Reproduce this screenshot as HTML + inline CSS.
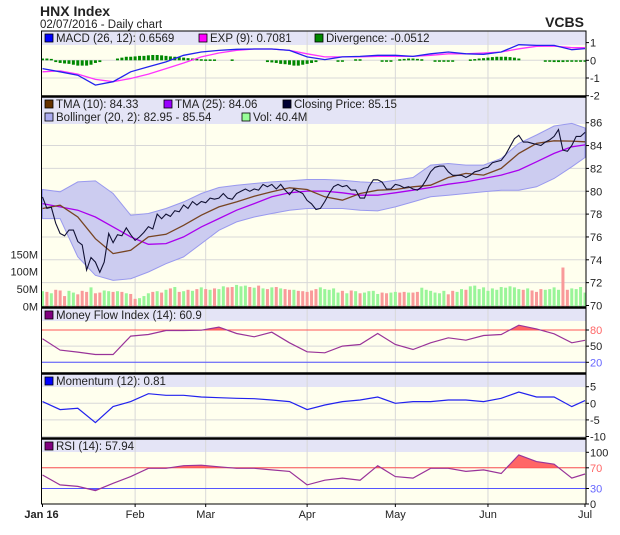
<!DOCTYPE html>
<html><head><meta charset="utf-8">
<style>
body{margin:0;background:#fff;}
svg{display:block;font-family:"Liberation Sans",sans-serif;}
</style></head>
<body>
<svg id="chart" width="620" height="535" viewBox="0 0 620 535">
<text x="40" y="16" font-size="14" font-weight="bold" fill="#222">HNX Index</text>
<text x="40" y="28" font-size="11.5" fill="#222">02/07/2016 - Daily chart</text>
<text x="584" y="27" font-size="14" font-weight="bold" fill="#222" text-anchor="end">VCBS</text>
<g id="layer"></g>
</svg>
<script>
// ---- data ----
const close = [79.5,78.5,78.6,77.2,76.3,76.1,76.6,76.6,75.6,75.3,73.1,74.2,73.8,72.9,73.8,76.3,75.5,76.2,76.1,76.8,76.2,75.7,76,76.4,76.9,76.7,78,77.6,78,77.8,78.3,78.2,78.8,78.5,79.1,78.8,79.1,79,79.4,79.3,79.4,79.8,79.4,79.3,79.8,80,80.2,80,80.2,80.1,80.6,80.4,80.6,80.2,80.6,80.1,79.7,80.2,80,79.8,79.2,78.9,78.4,78.5,79.1,79.8,80.4,80.6,80.4,80.5,80.1,80.1,79.4,79.4,80.4,81,81,80.8,80.2,80.2,80.6,80.5,80.3,80.4,80.2,80.1,80.4,81,81.7,82.1,82.2,82.2,81.7,81.4,81.4,81.4,81.2,81.4,81.7,81.8,82,82.1,82.5,82.6,82.7,83.2,83.9,84.6,84.9,84.3,84.3,84.2,84.1,84,84.3,84.5,84.8,85.4,83.6,83.5,84,84.8,84.8,85.15];
const volume = [44,42,38,48,46,30,45,40,35,45,42,55,38,40,46,44,42,44,42,38,36,22,24,30,38,42,44,40,48,52,56,42,44,48,45,50,55,50,48,52,50,58,55,56,62,58,60,56,54,60,52,50,55,56,52,50,48,48,45,44,42,46,50,55,50,48,52,40,45,38,46,44,38,40,44,45,36,40,38,40,42,40,42,40,40,42,54,48,45,40,38,45,35,45,42,50,48,58,60,50,55,45,52,48,56,54,58,55,50,48,52,46,42,50,48,50,55,48,112,48,52,50,56,40];
const divergence = [.1,.1,.08,-.1,-.15,-.18,-.2,-.25,-.3,-.3,-.3,-.25,-.15,-.1,0,0,0,.1,.15,.2,.2,.22,.25,.25,.28,.3,.3,.28,.25,.22,.2,.18,.15,.12,.1,.08,.06,.05,.05,.05,0,0,0,.05,0,0,0,0,0,0,0,-.1,-.12,-.15,-.2,-.22,-.25,-.3,-.3,-.25,-.2,-.15,-.1,0,0,0,0,-.08,-.08,0,0,.06,.06,0,0,0,0,-.05,-.05,-.05,0,.06,.08,.1,.1,.08,.06,0,0,-.05,-.05,-.05,-.05,-.05,0,0,0,.05,.07,.1,.12,.15,.18,.2,.2,.2,.18,.15,.1,0,0,0,0,0,-.05,-.08,-.1,-.1,-.1,-.08,-.05,-.05,-.05,-.05];
const sampleIdx = [0,4,8,12,16,20,24,28,32,36,40,44,48,52,56,60,64,68,72,76,80,84,88,92,96,100,104,108,112,116,120,123];
const tma10 = [78.49,78.78,77.75,75.85,74.54,74.83,76.0,76.23,77.02,77.9,78.63,79.07,79.57,79.95,80.3,80.15,79.51,79.22,79.8,80.09,80.15,80.39,80.53,81.2,81.56,81.41,82.0,83.31,84.19,84.42,84.39,84.33];
const tma25 = [78.92,78.63,78.34,77.75,76.88,76.0,75.36,75.42,76.0,76.88,77.61,78.34,78.92,79.51,79.86,80.01,80.01,79.86,79.65,79.65,79.86,80.09,80.33,80.62,80.82,81.12,81.41,81.85,82.58,83.31,83.89,84.06];
const bollUpper = [80.15,79.95,80.82,80.91,79.8,77.9,78.05,78.49,79.07,79.8,80.33,80.53,80.68,80.82,80.91,81.03,81.03,80.97,80.82,80.74,80.97,81.2,82.29,82.43,82.29,82.29,82.87,84.19,84.92,85.71,85.94,85.54];
const bollLower = [77.61,77.61,74.25,72.64,72.2,72.35,72.93,73.66,74.25,75.42,76.58,77.32,77.75,78.05,78.34,78.49,78.49,78.49,78.34,78.28,78.63,79.07,79.51,79.65,79.8,79.95,80.09,80.09,80.39,81.12,82.14,82.95];
const macd = [-0.47,-0.65,-0.84,-1.4,-1.21,-0.65,-0.37,-0.09,0.28,0.47,0.56,0.62,0.64,0.64,0.56,0.19,0.04,0.19,0.22,0.28,0.28,0.22,0.37,0.47,0.37,0.34,0.47,0.88,0.84,0.84,0.6,0.66];
const macdExp = [-0.65,-0.6,-0.78,-1.08,-1.21,-1.03,-0.78,-0.47,-0.15,0.19,0.41,0.56,0.64,0.64,0.56,0.37,0.19,0.19,0.19,0.22,0.22,0.22,0.28,0.37,0.37,0.41,0.47,0.65,0.79,0.8,0.71,0.71];
const mfi = [63.6,42.6,38.9,34.5,34.5,68.6,71.6,79.0,79.0,79.7,85.3,73.5,67.3,75.9,56.2,39.5,37.6,50,53.1,73.5,53.1,43.8,56.2,65.5,61.1,69.8,71.6,88.9,82.1,72.9,56.2,60.9];
const momentum = [0.5,-1.9,-1.5,-5.8,-1.0,0.5,2.9,2.4,2.4,1.9,1.7,1.5,1.4,1.0,0.5,-1.9,-0.5,0.5,1.0,1.9,0,0.5,0.5,1.0,1.0,0.5,1.5,3.4,1.9,1.9,-1.0,0.81];
const rsi = [56,37,34,26,40,53,69,69,74,75,72,69,69,66,63,37,46,50,46,74,53,50,69,69,63,66,59,95,82,77,50,57.94];
const monthLabels = ["Jan 16","Feb","Mar","Apr","May","Jun","Jul"];
const monthIdx = [0,21,37,60,80,101,123];
const macdTicks = [1,0,-1,-2];
const priceTicks = [86,84,82,80,78,76,74,72,70];
const volTicks = [0,50,100,150];
const mfiTicks = [80,50,20];
const momTicks = [5,0,-5,-10];
const rsiTicks = [100,70,30,0];

// ---- layout ----
const NS = "http://www.w3.org/2000/svg";
const L = document.getElementById('layer');
const X0 = 41.5, X1 = 586;
const N = close.length;
const xs = i => X0 + 1 + i * (X1 - X0 - 2) / (N - 1);
function lin(d0, d1, p0, p1) { return v => p0 + (v - d0) * (p1 - p0) / (d1 - d0); }
function mk(tag, attrs, parent) {
  const e = document.createElementNS(NS, tag);
  for (const k in attrs) e.setAttribute(k, attrs[k]);
  (parent || L).appendChild(e);
  return e;
}
function txt(x, y, s, size, fill, anchor, weight) {
  const t = mk('text', {x: x, y: y, 'font-size': size, fill: fill || '#222', 'text-anchor': anchor || 'start'});
  if (weight) t.setAttribute('font-weight', weight);
  t.textContent = s;
  return t;
}
function pathOf(idx, vals, y) { return idx.map((i, k) => (k ? 'L' : 'M') + xs(i).toFixed(1) + ' ' + y(vals[k]).toFixed(1)).join(' '); }

const panels = [
  {name:'macd', top:31, leg:45, bot:96},
  {name:'price', top:97, leg:124, bot:307},
  {name:'mfi', top:308, leg:321, bot:373},
  {name:'momentum', top:374, leg:387, bot:438},
  {name:'rsi', top:439, leg:452, bot:504}
];
panels.forEach(p => {
  const bg = mk('rect', {x: X0, y: p.top, width: X1 - X0, height: p.bot - p.top, fill: '#ffffee'});
  
  
  const lb = mk('rect', {x: X0, y: p.top, width: X1 - X0, height: p.leg - p.top, fill: '#e4e4f6'});
  
  
  monthIdx.forEach((mi, k) => {
    if (k === 0 || k === monthIdx.length - 1) return;
    const gl = mk('line', {x1: xs(mi), x2: xs(mi), y1: p.top, y2: p.bot, stroke: '#d8d8d8', 'stroke-width': 1});
    
    
  });
});
function hgrid(y, ticks, p, fmt, colorFn) {
  ticks.forEach(t => {
    const yy = y(t);
    if (yy > p.leg + 1 && yy < p.bot - 1) {
      const g = mk('line', {x1: X0, x2: X1, y1: yy, y2: yy, stroke: '#d8d8d8'});
      
      
    }
    const tk = mk('line', {x1: X1, x2: X1 + 3, y1: yy, y2: yy, stroke: '#000'});
    
    
    const lab = txt(X1 + 4, yy + 4, fmt ? fmt(t) : String(t), 11, colorFn ? colorFn(t) : '#222');
    
    
  });
}
function legend(items, y) {
  items.forEach(it => {
    const sq = mk('rect', {x: it.x, y: y - 8, width: 8, height: 8, fill: it.c, stroke: '#000', 'stroke-width': 0.8});
    
    
    const t = txt(it.x + 11, y, it.t, 11.5, '#222');
    
    
  });
}

// ---- MACD ----
{
  const p = panels[0];
  const y = lin(0, 1, 60.3, 42.6);
  hgrid(y, macdTicks, p);
  divergence.forEach((d, i) => {
    if (d === 0) return;
    const r = mk('rect', {x: xs(i) - 1.5, y: Math.min(y(0), y(d)), width: 3, height: Math.max(1.5, Math.abs(y(d) - y(0))), fill: '#008800'});
    
    
  });
  const e = mk('path', {d: pathOf(sampleIdx, macdExp, y), fill: 'none', stroke: '#ff33ff', 'stroke-width': 1.3});
  
  
  const m = mk('path', {d: pathOf(sampleIdx, macd, y), fill: 'none', stroke: '#2222ee', 'stroke-width': 1.3});
  
  
  legend([{x:45,c:'#0000ff',t:'MACD (26, 12): 0.6569'},{x:199,c:'#ff00ff',t:'EXP (9): 0.7081'},{x:315,c:'#008800',t:'Divergence: -0.0512'}], 42);
}

// ---- Price ----
{
  const p = panels[1];
  const y = lin(70, 86, 305.5, 122.7);
  const yv = lin(0, 150, 306.5, 254.3);
  hgrid(y, priceTicks, p);
  volTicks.forEach(t => {
    const lab = txt(38, yv(t) + 4, t + 'M', 11, '#222', 'end');
    
    
  });
  const bandD = pathOf(sampleIdx, bollUpper, y) + ' ' + sampleIdx.slice().reverse().map((i, k) => 'L' + xs(i).toFixed(1) + ' ' + y(bollLower[sampleIdx.length - 1 - k]).toFixed(1)).join(' ') + ' Z';
  const band = mk('path', {d: bandD, fill: '#ccccf0', stroke: '#9999ee', 'stroke-width': 1});
  
  
  volume.forEach((v, i) => {
    const up = i === 0 || close[i] >= close[i - 1];
    const r = mk('rect', {x: xs(i) - 1.5, y: yv(v), width: 3, height: yv(0) - yv(v), fill: up ? '#99f599' : '#f99a9a'});
    
    
  });
  const t25 = mk('path', {d: pathOf(sampleIdx, tma25, y), fill: 'none', stroke: '#aa00ee', 'stroke-width': 1.3});
  
  
  const t10 = mk('path', {d: pathOf(sampleIdx, tma10, y), fill: 'none', stroke: '#774422', 'stroke-width': 1.3});
  
  
  const cl = mk('path', {d: pathOf(close.map((_, i) => i), close, y), fill: 'none', stroke: '#111133', 'stroke-width': 1.1});
  
  
  legend([{x:45,c:'#663300',t:'TMA (10): 84.33'},{x:164,c:'#9900ff',t:'TMA (25): 84.06'},{x:283,c:'#000033',t:'Closing Price: 85.15'}], 108);
  legend([{x:45,c:'#aaaaf0',t:'Bollinger (20, 2): 82.95 - 85.54'},{x:242,c:'#99ff99',t:'Vol: 40.4M'}], 121);
}

// ---- oscillator panels ----
function osc(p, y, vals, ticks, color, hi, lo, legItems, name, fmtColor) {
  hgrid(y, ticks, p, null, fmtColor);
  const id = 'clip-' + name;
  const cp = mk('clipPath', {id: id});
  mk('rect', {x: X0, y: p.leg, width: X1 - X0, height: p.bot - p.leg}, cp);
  const d = pathOf(sampleIdx, vals, y);
  if (hi !== null) {
    const c1 = mk('clipPath', {id: id + 'h'});
    mk('rect', {x: X0, y: p.leg, width: X1 - X0, height: y(hi) - p.leg}, c1);
    const f = mk('path', {d: d + ' L' + xs(sampleIdx[sampleIdx.length - 1]) + ' ' + y(hi) + ' L' + xs(0) + ' ' + y(hi) + ' Z', fill: '#ff6666', 'clip-path': 'url(#' + id + 'h)'});
    
    
    const hl = mk('line', {x1: X0, x2: X1, y1: y(hi), y2: y(hi), stroke: '#ff5555'});
    
    
  }
  if (lo !== null) {
    const c2 = mk('clipPath', {id: id + 'l'});
    mk('rect', {x: X0, y: y(lo), width: X1 - X0, height: p.bot - y(lo)}, c2);
    const f = mk('path', {d: d + ' L' + xs(sampleIdx[sampleIdx.length - 1]) + ' ' + y(lo) + ' L' + xs(0) + ' ' + y(lo) + ' Z', fill: '#6666ff', 'clip-path': 'url(#' + id + 'l)'});
    
    
    const ll = mk('line', {x1: X0, x2: X1, y1: y(lo), y2: y(lo), stroke: '#5555ff'});
    
    
  }
  const ln = mk('path', {d: d, fill: 'none', stroke: color, 'stroke-width': 1.2, 'clip-path': 'url(#' + id + ')'});
  
  
  legend(legItems, p.top + 11);
}
const thrColor = t => t === 80 || t === 70 ? '#ff6666' : (t === 20 || t === 30 ? '#6666ff' : '#222');
osc(panels[2], lin(20, 80, 362.3, 330), mfi, mfiTicks, '#993399', 80, 20, [{x:45,c:'#800080',t:'Money Flow Index (14): 60.9'}], 'mfi', thrColor);
osc(panels[3], lin(0, 5, 403.3, 386.7), momentum, momTicks, '#2222ee', null, null, [{x:45,c:'#0000ff',t:'Momentum (12): 0.81'}], 'momentum');
osc(panels[4], lin(0, 100, 504, 452.3), rsi, rsiTicks, '#993399', 70, 30, [{x:45,c:'#800080',t:'RSI (14): 57.94'}], 'rsi', thrColor);

// ---- frames & x axis ----
panels.forEach(p => {
  const f = mk('rect', {x: X0, y: p.top, width: X1 - X0, height: p.bot - p.top, fill: 'none', stroke: '#000', 'stroke-width': 1});
  
  
});
[96.5, 307.5, 373.5, 438.5].forEach(yy => {
  const s = mk('line', {x1: X0, x2: X1, y1: yy, y2: yy, stroke: '#000', 'stroke-width': 2.5});
  
  
});
monthIdx.forEach((mi, k) => {
  const tk = mk('line', {x1: xs(mi), x2: xs(mi), y1: 504, y2: 507, stroke: '#000'});
  
  
  const t = txt(xs(mi) + (k === 0 ? -1 : 0), 518, monthLabels[k], 11, '#222', 'middle', k === 0 ? 'bold' : null);
  
  
});
</script>
</body></html>
